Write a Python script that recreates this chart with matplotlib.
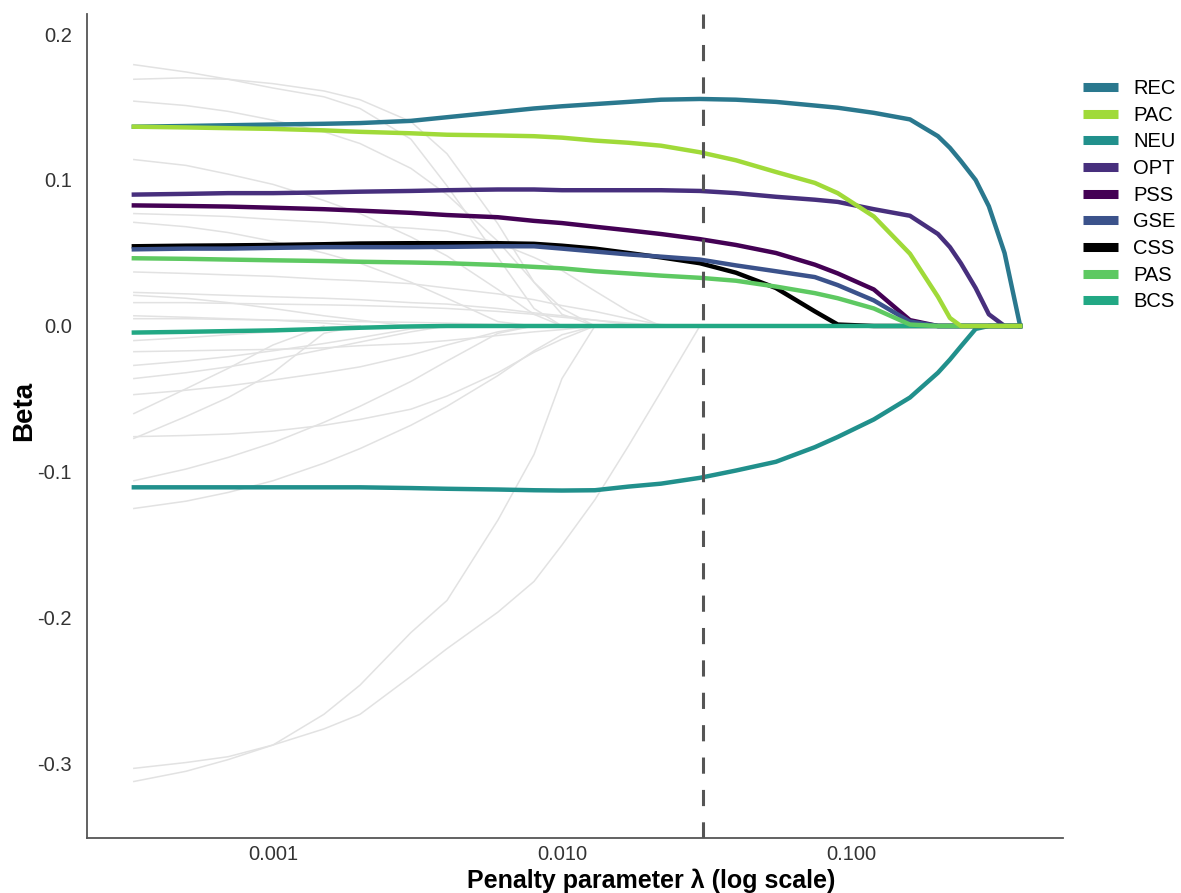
import matplotlib
matplotlib.use("Agg")
import matplotlib.pyplot as plt
from matplotlib.lines import Line2D

plt.rcParams["font.family"] = ["Liberation Sans", "DejaVu Sans"]

# penalty path (lambda values)
lam = [0.00033, 0.0005, 0.0007, 0.001, 0.0015, 0.002, 0.003, 0.004, 0.006, 0.008,
       0.01, 0.013, 0.017, 0.022, 0.03, 0.04, 0.055, 0.075, 0.09, 0.12,
       0.16, 0.2, 0.22, 0.24, 0.27, 0.3, 0.34, 0.385]
lam_min = 0.0307

rec = [0.1365, 0.137, 0.1375, 0.138, 0.1385, 0.139, 0.1405, 0.143, 0.1465, 0.149,
       0.1505, 0.152, 0.1535, 0.155, 0.1555, 0.155, 0.1535, 0.151, 0.1495, 0.146,
       0.1415, 0.130, 0.122, 0.113, 0.100, 0.082, 0.050, 0.0]
pac = [0.1365, 0.136, 0.1355, 0.135, 0.134, 0.133, 0.132, 0.131, 0.1305, 0.130,
       0.129, 0.127, 0.1255, 0.1235, 0.119, 0.1135, 0.1055, 0.098, 0.091, 0.075,
       0.0495, 0.020, 0.0055, 0.0, 0.0, 0.0, 0.0, 0.0]
neu = [-0.1105, -0.1105, -0.1105, -0.1105, -0.1105, -0.1105, -0.111, -0.1115, -0.112, -0.1125,
       -0.1127, -0.1125, -0.110, -0.108, -0.104, -0.099, -0.093, -0.083, -0.076, -0.064,
       -0.049, -0.032, -0.023, -0.014, -0.002, 0.0, 0.0, 0.0]
opt = [0.090, 0.0905, 0.091, 0.091, 0.0915, 0.092, 0.0925, 0.093, 0.0935, 0.0935,
       0.093, 0.093, 0.093, 0.093, 0.0925, 0.091, 0.0885, 0.0865, 0.085, 0.080,
       0.0755, 0.063, 0.054, 0.043, 0.026, 0.008, 0.0, 0.0]
pss = [0.0826, 0.0822, 0.0818, 0.081, 0.080, 0.079, 0.0775, 0.076, 0.0745, 0.072,
       0.0705, 0.068, 0.0655, 0.063, 0.0595, 0.0555, 0.050, 0.042, 0.036, 0.025,
       0.004, 0.0, 0.0, 0.0, 0.0, 0.0, 0.0, 0.0]
gse = [0.0525, 0.053, 0.053, 0.0535, 0.054, 0.054, 0.054, 0.0542, 0.0546, 0.0546,
       0.053, 0.051, 0.049, 0.0475, 0.0455, 0.0415, 0.0375, 0.0335, 0.028, 0.0175,
       0.003, 0.0, 0.0, 0.0, 0.0, 0.0, 0.0, 0.0]
css = [0.0546, 0.055, 0.0552, 0.0555, 0.056, 0.0565, 0.0567, 0.0567, 0.0567, 0.0563,
       0.055, 0.053, 0.050, 0.047, 0.043, 0.0365, 0.026, 0.010, 0.001, 0.0,
       0.0, 0.0, 0.0, 0.0, 0.0, 0.0, 0.0, 0.0]
pas = [0.0464, 0.046, 0.0455, 0.045, 0.0445, 0.044, 0.0435, 0.043, 0.0418, 0.0405,
       0.0395, 0.0375, 0.036, 0.0345, 0.033, 0.031, 0.027, 0.0225, 0.019, 0.012,
       0.001, 0.0, 0.0, 0.0, 0.0, 0.0, 0.0, 0.0]
bcs = [-0.0045, -0.004, -0.0035, -0.003, -0.002, -0.0012, -0.0003, 0.0, 0.0, 0.0,
       0.0, 0.0, 0.0, 0.0, 0.0, 0.0, 0.0, 0.0, 0.0, 0.0,
       0.0, 0.0, 0.0, 0.0, 0.0, 0.0, 0.0, 0.0]

# other (unhighlighted) predictors, each listed until it reaches zero
gray_paths = [
    [0.179, 0.174, 0.169, 0.163, 0.157, 0.149, 0.128, 0.096, 0.047, 0.012, 0.0],
    [0.169, 0.170, 0.169, 0.166, 0.161, 0.155, 0.140, 0.118, 0.070, 0.030, 0.008, 0.0],
    [0.154, 0.151, 0.147, 0.141, 0.133, 0.125, 0.108, 0.090, 0.058, 0.030, 0.012, 0.0],
    [0.114, 0.110, 0.104, 0.097, 0.086, 0.077, 0.061, 0.048, 0.025, 0.008, 0.0],
    [0.077, 0.076, 0.075, 0.073, 0.071, 0.069, 0.067, 0.065, 0.057, 0.047, 0.038, 0.024, 0.010, 0.0],
    [0.071, 0.068, 0.064, 0.058, 0.050, 0.043, 0.030, 0.019, 0.003, 0.0],
    [0.037, 0.036, 0.035, 0.034, 0.032, 0.031, 0.029, 0.026, 0.022, 0.018, 0.014, 0.010, 0.005, 0.001, 0.0],
    [0.023, 0.022, 0.021, 0.020, 0.019, 0.018, 0.016, 0.015, 0.012, 0.009, 0.007, 0.004, 0.001, 0.0],
    [0.021, 0.019, 0.016, 0.012, 0.007, 0.004, 0.0],
    [0.016, 0.016, 0.0155, 0.015, 0.0145, 0.014, 0.013, 0.012, 0.010, 0.008, 0.006, 0.004, 0.002, 0.0005, 0.0],
    [0.007, 0.006, 0.005, 0.004, 0.002, 0.0],
    [0.005, 0.005, 0.0045, 0.004, 0.0035, 0.003, 0.0025, 0.002, 0.001, 0.0005, 0.0],
    [-0.010, -0.008, -0.006, -0.004, -0.001, 0.0],
    [-0.0176, -0.017, -0.0165, -0.016, -0.015, -0.0135, -0.012, -0.010, -0.0065, -0.004, -0.0025, 0.0],
    [-0.027, -0.024, -0.021, -0.017, -0.012, -0.008, -0.002, 0.0],
    [-0.036, -0.032, -0.028, -0.023, -0.016, -0.011, -0.004, 0.0],
    [-0.047, -0.044, -0.041, -0.037, -0.032, -0.028, -0.020, -0.013, -0.004, 0.0],
    [-0.060, -0.043, -0.029, -0.013, 0.0],
    [-0.0758, -0.075, -0.074, -0.072, -0.068, -0.064, -0.057, -0.048, -0.032, -0.018, -0.009, 0.0],
    [-0.077, -0.062, -0.049, -0.032, -0.005, 0.0],
    [-0.106, -0.098, -0.090, -0.080, -0.066, -0.055, -0.038, -0.024, -0.005, 0.0],
    [-0.125, -0.120, -0.114, -0.106, -0.094, -0.084, -0.068, -0.055, -0.034, -0.017, -0.006, 0.0],
    [-0.312, -0.305, -0.297, -0.287, -0.266, -0.246, -0.210, -0.188, -0.133, -0.088, -0.036, 0.0],
    [-0.303, -0.299, -0.295, -0.287, -0.276, -0.266, -0.240, -0.221, -0.196, -0.175, -0.150, -0.119, -0.082, -0.045, 0.0],
]

labels = ["REC", "PAC", "NEU", "OPT", "PSS", "GSE", "CSS", "PAS", "BCS"]
values = [rec, pac, neu, opt, pss, gse, css, pas, bcs]
colors = ["#2A788E", "#A0DA39", "#21908C", "#472F7D", "#440154",
          "#3B528B", "#000000", "#5EC962", "#22A884"]
# drawing order, bottom to top
draw_order = ["REC", "NEU", "OPT", "PSS", "CSS", "GSE", "BCS", "PAS", "PAC"]

xticks = [0.001, 0.01, 0.1]
xticklabels = ["0.001", "0.010", "0.100"]
yticks = [0.2, 0.1, 0.0, -0.1, -0.2, -0.3]
yticklabels = ["0.2", "0.1", "0.0", "-0.1", "-0.2", "-0.3"]

fig = plt.figure(figsize=(11.81, 8.93), dpi=100)
ax = fig.add_axes([87/1181, 55/893, 976/1181, 824/893])

for g in gray_paths:
    ax.plot(lam[:len(g)], g, color="#e2e2e2", lw=1.1, zorder=1)

for z, name in enumerate(draw_order):
    i = labels.index(name)
    ax.plot(lam, values[i], color=colors[i], lw=3.2, zorder=2 + z)

ax.axvline(lam_min, color="#555555", lw=2.2, ls=(0, (5.3, 5.3)), zorder=20)

ax.set_xscale("log")
ax.set_xlim(2.272e-4, 0.5416)
ax.set_ylim(-0.3507, 0.2137)
ax.set_xticks(xticks)
ax.set_xticklabels(xticklabels)
ax.minorticks_off()
ax.set_yticks(yticks)
ax.set_yticklabels(yticklabels)
ax.tick_params(axis="both", length=0, labelsize=14.5, labelcolor="#333333")
ax.tick_params(axis="x", pad=5)
ax.tick_params(axis="y", pad=11)

for s in ["top", "right"]:
    ax.spines[s].set_visible(False)
for s in ["left", "bottom"]:
    ax.spines[s].set_color("#555555")
    ax.spines[s].set_linewidth(1.3)

fig.text(24/1181, 1 - 411/893, "Beta", rotation=90, ha="center", va="center",
         fontsize=20, fontweight="bold")
fig.text(651/1181, 1 - 881/893, "Penalty parameter λ (log scale)", ha="center",
         va="center", fontsize=18, fontweight="bold")

handles = [Line2D([0], [0], color=c, lw=6.5, solid_capstyle="butt") for c in colors]
fig.legend(handles, labels, loc="upper left", bbox_to_anchor=(1083/1181, 1 - 79/893),
           frameon=False, fontsize=14.5, handlelength=1.74, handletextpad=0.75,
           labelspacing=0.38, borderpad=0, borderaxespad=0)

fig.savefig("out.png", dpi=100)
